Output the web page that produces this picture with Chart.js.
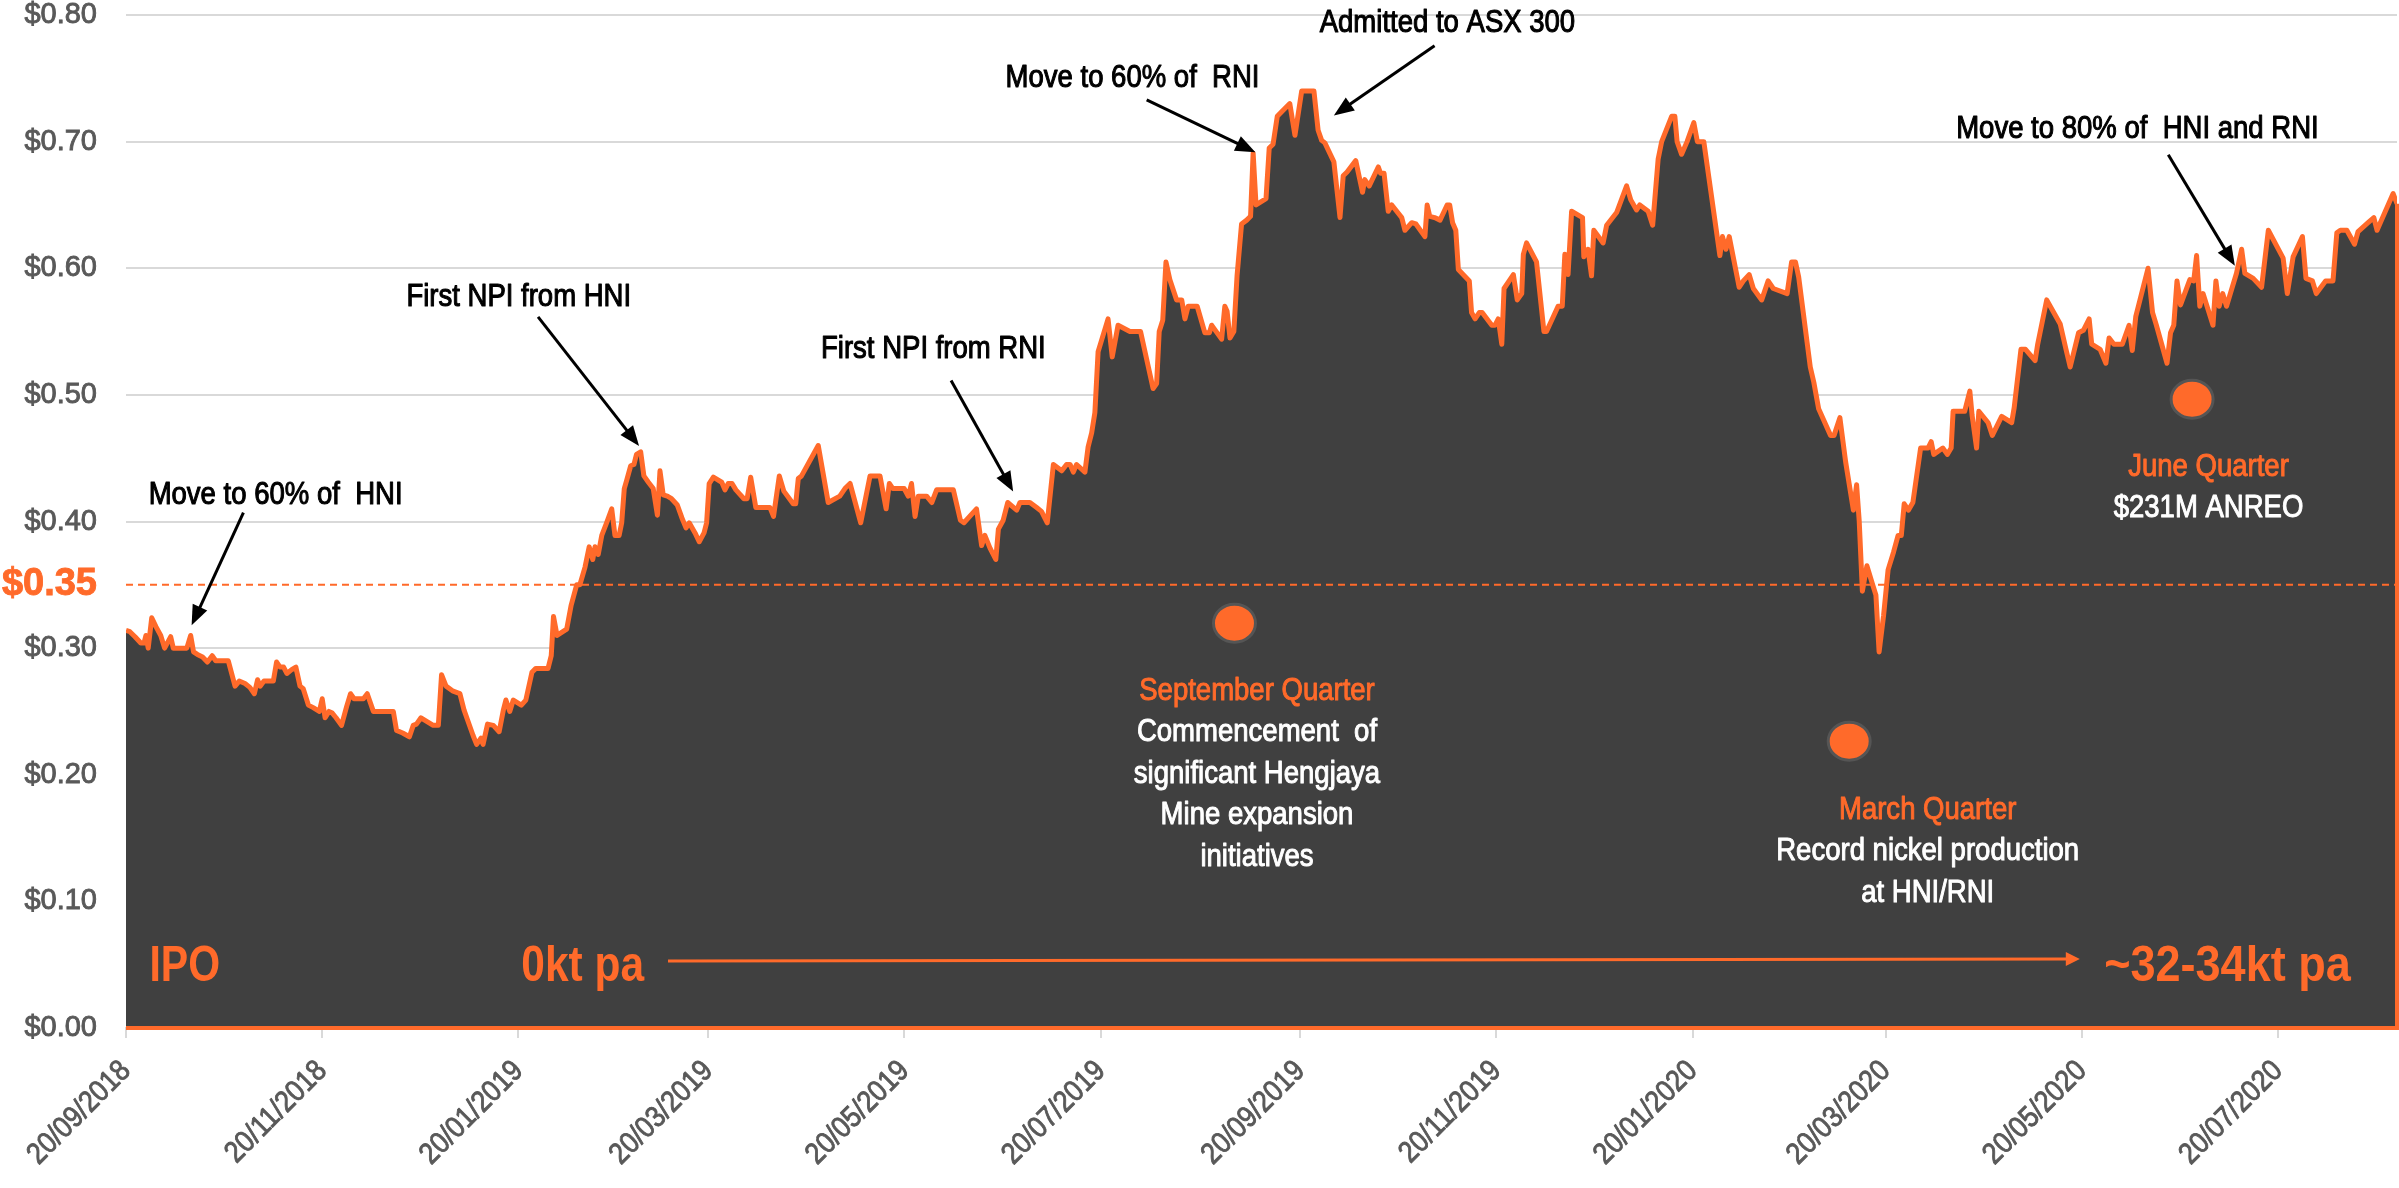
<!DOCTYPE html>
<html>
<head>
<meta charset="utf-8">
<title>Share price since IPO</title>
<script src="https://cdn.jsdelivr.net/npm/chart.js@4.4.1/dist/chart.umd.min.js"></script>
<style>
html,body{margin:0;padding:0;background:#fff;overflow:hidden}
#wrap{width:2399px;height:1188px;position:relative}
</style>
</head>
<body>
<div id="wrap"><canvas id="grafico"></canvas></div>
<script>

// closing price. x = days since the IPO (20/09/2018)
const ipoDate="20/09/2018"

const days=[
0,1.2,2.8,4.6,5.6,6.2,6.9,8.0,9.3,10.8,12.0,13.9,14.7,18.9,20.1,21.0,22.2,23.8,25.3,26.8,
27.9,31.8,33.9,35.2,37.0,38.5,39.9,40.9,41.7,42.9,45.8,46.8,47.9,49.0,50.0,51.5,52.8,54.1,55.1,56.7,
58.2,60.1,61.0,61.9,63.1,64.0,65.3,67.0,68.6,69.8,70.9,73.8,75.0,76.9,83.1,84.1,86.0,88.1,89.3,90.3,
91.7,95.5,97.1,98.1,99.5,101.7,103.8,105.1,107.9,109.0,110.4,111.0,112.4,114.2,116.0,117.3,118.1,119.3,120.4,122.9,
124.3,126.2,127.4,131.2,132.2,132.9,134.0,137.0,138.4,140.1,141.1,142.7,144.0,145.1,145.8,146.8,147.9,149.4,151.0,152.0,
153.3,154.1,154.9,155.7,156.9,157.9,158.7,160.0,161.0,162.4,163.9,165.2,166.0,167.0,168.3,169.6,171.4,172.8,174.1,175.1,
176.9,178.2,179.7,180.5,181.3,182.6,185.2,186.2,187.2,188.4,189.6,192.1,193.1,194.2,195.8,200.2,201.3,203.1,204.5,207.4,
208.2,209.0,210.0,215.2,218.3,221.9,223.5,225.1,228.4,231.3,234.4,236.3,237.3,238.4,241.9,243.2,244.2,245.3,246.3,248.9,
250.5,252.0,257.2,259.4,260.5,264.4,266.0,267.0,268.6,270.4,271.2,272.7,274.1,276.9,277.9,281.0,283.1,284.6,286.4,288.3,
290.9,292.4,293.5,294.5,295.5,298.1,299.1,300.2,301.2,302.2,305.3,306.6,308.4,312.1,315.4,319.3,320.4,321.2,322.3,323.3,
324.5,326.6,328.2,329.2,330.2,333.0,335.4,336.8,337.5,340.6,341.6,342.3,343.2,344.4,345.4,346.8,348.4,349.6,350.4,351.3,
354.4,355.4,356.6,357.9,359.8,361.8,363.4,365.5,369.3,370.6,371.7,372.7,375.5,377.4,378.4,379.6,382.3,384.4,385.1,386.5,
389.3,390.0,391.1,392.4,393.5,396.6,397.6,399.7,401.0,403.8,404.5,405.3,406.8,408.5,410.7,411.5,412.4,413.4,414.2,417.6,
418.3,419.4,420.7,421.6,424.6,425.6,426.6,427.7,428.4,431.3,432.5,433.9,434.4,435.4,438.5,440.8,441.6,445.2,446.5,447.3,
448.3,449.4,452.8,453.2,454.5,455.6,456.3,459.2,460.3,463.4,466.5,467.8,469.6,470.6,473.2,474.6,476.3,477.4,480.5,481.5,
482.2,483.6,485.3,487.4,488.5,490.5,495.5,496.3,497.4,498.4,501.5,502.8,504.6,505.9,508.5,510.5,512.1,516.4,517.8,519.0,
520.0,523.6,524.7,526.2,529.9,531.0,532.8,534.6,537.0,538.0,538.8,539.8,541.2,543.0,544.0,545.0,546.4,547.8,549.5,550.9,
551.9,552.8,554.1,555.5,557.9,560.2,561.2,562.0,564.8,566.2,567.4,568.0,571.6,573.2,573.9,575.3,576.0,578.9,580.2,583.1,
586.2,587.0,589.1,590.5,593.5,594.3,597.1,601.3,603.0,604.4,607.0,608.5,610.3,611.1,613.7,615.5,616.5,618.0,620.6,622.7,
623.7,624.8,628.6,630.0,631.2,634.5,635.6,636.6,637.6,638.7,641.6,642.8,643.7,644.7,645.7,648.8,649.7,650.7,651.8,653.0,
656.1,657.7,658.7,661.3,663.9,666.0,670.6,671.9,673.7,676.6,677.7,679.7,680.9,683.8,686.1,687.3,688.4,690.4,692.8,693.9,
697.0,698.8,699.8,704.8,706.0
]

const prices=[
.314,.313,.309,.304,.304,.310,.300,.324,.317,.310,.300,.309,.300,.300,.310,.297,.295,.293,.289,.294,
.290,.290,.270,.274,.272,.269,.264,.275,.270,.274,.274,.289,.285,.285,.280,.283,.285,.270,.268,.255,
.253,.250,.260,.245,.250,.249,.245,.239,.254,.264,.260,.260,.264,.250,.250,.235,.233,.230,.239,.240,
.245,.239,.239,.279,.270,.266,.264,.251,.231,.224,.229,.224,.240,.239,.234,.251,.259,.250,.259,.255,
.259,.281,.284,.284,.294,.325,.310,.315,.334,.350,.350,.364,.380,.370,.380,.374,.389,.399,.410,.389,
.389,.399,.426,.433,.444,.445,.453,.455,.436,.431,.426,.405,.440,.421,.420,.418,.413,.403,.395,.399,
.391,.384,.391,.399,.430,.435,.431,.425,.430,.430,.425,.418,.418,.435,.411,.411,.404,.436,.424,.414,
.414,.434,.436,.460,.415,.420,.426,.430,.399,.436,.436,.410,.430,.426,.426,.420,.430,.404,.420,.420,
.415,.425,.425,.401,.399,.410,.381,.389,.379,.370,.394,.401,.415,.409,.415,.415,.411,.408,.399,.445,
.440,.445,.445,.439,.445,.439,.459,.470,.486,.534,.560,.530,.555,.550,.550,.505,.509,.550,.559,.605,
.591,.575,.575,.560,.570,.570,.549,.549,.555,.544,.570,.566,.545,.550,.594,.635,.638,.641,.691,.650,
.655,.695,.698,.720,.725,.730,.705,.740,.740,.709,.701,.699,.684,.640,.673,.676,.685,.660,.670,.665,
.680,.675,.675,.645,.650,.640,.630,.636,.635,.625,.650,.641,.640,.638,.650,.650,.636,.630,.599,.590,
.565,.560,.565,.565,.555,.555,.560,.540,.584,.595,.575,.580,.611,.620,.605,.550,.550,.570,.570,.611,
.595,.645,.640,.609,.615,.594,.630,.620,.634,.644,.665,.654,.646,.650,.645,.634,.686,.700,.720,.720,
.700,.690,.700,.715,.700,.700,.610,.625,.615,.625,.585,.590,.595,.584,.575,.590,.584,.580,.605,.605,
.593,.522,.510,.489,.468,.468,.482,.447,.409,.429,.401,.345,.365,.350,.342,.297,.326,.362,.376,.389,
.389,.414,.409,.415,.458,.458,.463,.453,.458,.453,.458,.487,.487,.503,.484,.458,.487,.478,.468,.483,
.478,.490,.536,.536,.527,.540,.575,.556,.537,.522,.549,.551,.560,.540,.536,.525,.545,.540,.540,.555,
.535,.562,.600,.565,.555,.525,.549,.555,.590,.571,.591,.590,.610,.570,.580,.555,.590,.570,.580,.570,
.596,.615,.596,.592,.585,.630,.608,.580,.609,.625,.592,.590,.580,.590,.590,.628,.630,.630,.619,.629,
.636,.640,.630,.659,.651
]

const ipoPrice=0.35
const yTicks=[0,0.1,0.2,0.3,0.4,0.5,0.6,0.7,0.8]
const xTickLabels=["20/09/2018","20/11/2018","20/01/2019","20/03/2019","20/05/2019","20/07/2019",
"20/09/2019","20/11/2019","20/01/2020","20/03/2020","20/05/2020","20/07/2020"]

// notes on the chart, placed in data units [days, price]
const callouts=[
{text:"Move to 60% of  HNI",at:[46.5,0.414],from:[36.5,0.407],to:[20.4,0.318]},
{text:"First NPI from HNI",at:[122.1,0.570],from:[128.1,0.5616],to:[159.5,0.4597]},
{text:"First NPI from RNI",at:[251,0.529],from:[256.5,0.5113],to:[275.8,0.4236]},
{text:"Move to 60% of  RNI",at:[312.9,0.7433],from:[317.3,0.733],to:[351.1,0.6917]},
{text:"Admitted to ASX 300",at:[410.8,0.7863],from:[406.8,0.7757],to:[375.5,0.7207]},
{text:"Move to 80% of  HNI and RNI",at:[625.3,0.7032],from:[634.9,0.6896],to:[655.6,0.6019]}
]

const quarters=[
{dot:[344.6,0.3197],title:"September Quarter",lines:["Commencement  of","significant Hengjaya","Mine expansion","initiatives"],at:[351.6,0.2593]},
{dot:[535.7,0.2265],title:"March Quarter",lines:["Record nickel production","at HNI/RNI"],at:[560.1,0.1654]},
{dot:[642.3,0.4966],title:"June Quarter",lines:["$231M ANREO"],at:[647.4,0.4363]}
]

const production={start:"IPO",from:"0kt pa",to:"~32-34kt pa"}

const orange="#FF6A2A"
const dark="#404040"
const gray="#595959"
const gridGray="#D9D9D9"
const noteFont='32px "Liberation Sans"'
const bigFont='bold 50px "Liberation Sans"'
const axisFont='30px "Liberation Sans"'

function toDay(s){
let [d,m,y]=s.split("/").map(Number)
let [d0,m0,y0]=ipoDate.split("/").map(Number)
return (Date.UTC(y,m-1,d)-Date.UTC(y0,m0-1,d0))/864e5
}

const tickDays=xTickLabels.map(toDay)
const lastDay=days[days.length-1]


// narrow text: the original uses a condensed face, so squeeze a normal one
function label(ctx,str,x,y,font,color,align,sx,heavy,angle){
ctx.save()
ctx.font=font
ctx.fillStyle=color
ctx.strokeStyle=color
ctx.lineWidth=heavy||0
ctx.lineJoin="round"
ctx.textAlign=align
ctx.textBaseline="alphabetic"
ctx.translate(x,y)
if(angle)ctx.rotate(angle)
ctx.scale(sx,1)
ctx.fillText(str,0,0)
if(heavy)ctx.strokeText(str,0,0)
ctx.restore()
}

function arrow(ctx,x1,y1,x2,y2,color,width,head,headW){
let a=Math.atan2(y2-y1,x2-x1)
let c=Math.cos(a),s=Math.sin(a)
ctx.strokeStyle=color
ctx.fillStyle=color
ctx.lineWidth=width
ctx.beginPath()
ctx.moveTo(x1,y1)
ctx.lineTo(x2-c*head*0.8,y2-s*head*0.8)
ctx.stroke()
ctx.beginPath()
ctx.moveTo(x2,y2)
ctx.lineTo(x2-head*c+headW/2*s,y2-head*s-headW/2*c)
ctx.lineTo(x2-head*c-headW/2*s,y2-head*s+headW/2*c)
ctx.closePath()
ctx.fill()
}


const notes={
id:"notes",
afterDraw(chart){
let {ctx,scales:{x,y}}=chart
let px=d=>x.getPixelForValue(d)
let py=v=>y.getPixelForValue(v)
ctx.save()

// area outline along the base and the right edge
ctx.strokeStyle=orange
ctx.lineWidth=4
ctx.beginPath()
ctx.moveTo(px(0),py(0))
ctx.lineTo(px(lastDay),py(0))
ctx.lineTo(px(lastDay),py(prices[prices.length-1]))
ctx.stroke()

// date labels, slanted 45 degrees and ending at their tick
tickDays.forEach((d,i)=>{
label(ctx,xTickLabels[i],px(d)+6,py(0)+44,axisFont,gray,"right",0.88,0.9,-Math.PI/4)
})

callouts.forEach(c=>{
label(ctx,c.text,px(c.at[0]),py(c.at[1]),noteFont,"#000","center",0.86,1.1)
arrow(ctx,px(c.from[0]),py(c.from[1]),px(c.to[0]),py(c.to[1]),"#000",3,20,16)
})

quarters.forEach(q=>{
ctx.beginPath()
ctx.ellipse(px(q.dot[0]),py(q.dot[1]),21,19,0,0,Math.PI*2)
ctx.fillStyle=orange
ctx.fill()
ctx.strokeStyle="#555555"
ctx.lineWidth=3
ctx.stroke()
let cx=px(q.at[0]),cy=py(q.at[1])
label(ctx,q.title,cx,cy,noteFont,orange,"center",0.86,1)
q.lines.forEach((l,i)=>label(ctx,l,cx,cy+41.5*(i+1),noteFont,"#fff","center",0.86,1))
})

// production run rate
label(ctx,production.start,px(7.3),py(0.037),bigFont,orange,"left",0.82)
label(ctx,production.from,px(122.9),py(0.037),bigFont,orange,"left",0.85)
label(ctx,production.to,px(615),py(0.037),bigFont,orange,"left",0.9)
arrow(ctx,px(168.5),py(0.0529),px(607.4),py(0.0545),orange,3,14,14)

ctx.restore()
}
}


new Chart(document.getElementById("grafico"),{

type:"line",

data:{
datasets:[
{
data:[{x:0,y:ipoPrice},{x:lastDay,y:ipoPrice}],
borderColor:orange,
borderWidth:2,
borderDash:[7,5],
pointRadius:0,
fill:false,
order:0
},
{
data:days.map((d,i)=>({x:d,y:prices[i]})),
borderColor:orange,
borderWidth:5,
backgroundColor:dark,
fill:"origin",
pointRadius:0,
tension:0,
borderJoinStyle:"round",
order:1
}
]
},

options:{
responsive:true,
maintainAspectRatio:false,
animation:false,
layout:{padding:{top:15,right:2,left:0,bottom:0}},
plugins:{legend:{display:false},tooltip:{enabled:false}},
scales:{
x:{
type:"linear",
min:0,
max:lastDay,
afterBuildTicks:s=>{s.ticks=tickDays.map(v=>({value:v}))},
afterFit:s=>{s.height=160;s.paddingLeft=0;s.paddingRight=0},
grid:{drawOnChartArea:false,color:gridGray,lineWidth:2,tickLength:10},
border:{color:gridGray,width:2},
// labels are drawn by the notes plugin
ticks:{display:false,autoSkip:false}
},
y:{
min:0,
max:0.8,
afterBuildTicks:s=>{s.ticks=yTicks.concat([ipoPrice]).map(v=>({value:v}))},
// the tick padding is only meant to push the labels left
afterFit:s=>{s.width=126;s.paddingTop=0;s.paddingBottom=0},
grid:{drawTicks:false,lineWidth:2,color:c=>c.tick&&c.tick.value===ipoPrice?"rgba(0,0,0,0)":gridGray},
border:{display:false},
ticks:{
padding:29,
color:c=>c.tick&&c.tick.value===ipoPrice?orange:gray,
textStrokeColor:c=>c.tick&&c.tick.value===ipoPrice?orange:gray,
textStrokeWidth:0.9,
font:c=>c.tick&&c.tick.value===ipoPrice?{family:"Liberation Sans",size:38,weight:"bold"}:{family:"Liberation Sans",size:29},
callback:v=>"$"+v.toFixed(2)
}
}
}
},

plugins:[notes]

})

</script>
</body>
</html>
